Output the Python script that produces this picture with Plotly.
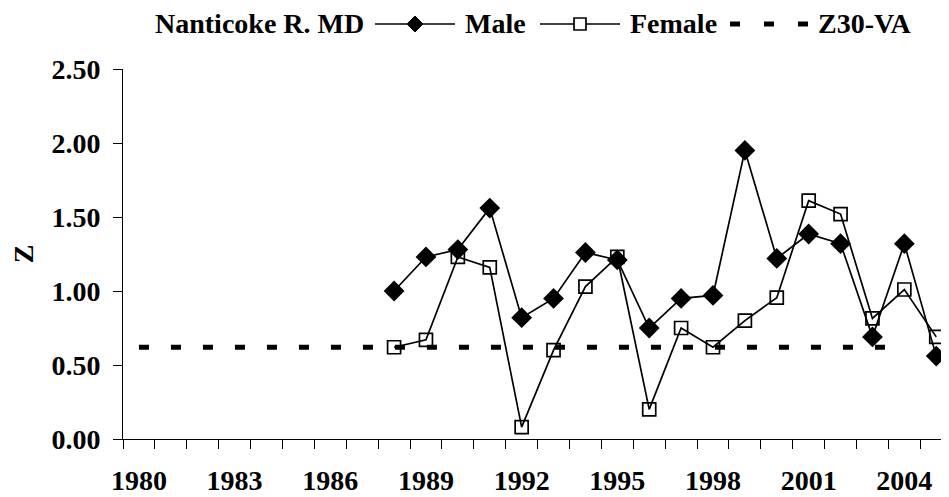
"""Nanticoke R. MD - Z by sex, with Z30-VA reference."""

import plotly.graph_objects as go

z30_years = list(range(1980, 2005))
data_years = list(range(1988, 2006))

male_z = [1.00, 1.23, 1.28, 1.56, 0.82, 0.95, 1.26, 1.21, 0.75,
          0.95, 0.97, 1.95, 1.22, 1.385, 1.32, 0.69, 1.32, 0.56]
female_z = [0.62, 0.67, 1.23, 1.16, 0.08, 0.60, 1.03, 1.23, 0.20,
            0.75, 0.62, 0.80, 0.955, 1.61, 1.52, 0.815, 1.01, 0.69]
z30_va = [0.62] * len(z30_years)

x_labels = [1980, 1983, 1986, 1989, 1992, 1995, 1998, 2001, 2004]
y_ticks = [0.0, 0.5, 1.0, 1.5, 2.0, 2.5]

FONT = "Liberation Serif"
FS = 28
# page body adds an 8px offset, so the figure is a bit smaller than the window
OFF = 8
W, H = 941, 489
ML, MR, MT, MB = 115, 0, 61, 58


def px_x(p):
    return (p - OFF - ML) / (W - ML - MR)


def px_y(p):
    return (H - MB - (p - OFF)) / (H - MT - MB)


fig = go.Figure()
fig.add_trace(
    go.Scatter(
        x=data_years, y=male_z, mode="lines+markers", name="Male",
        line=dict(color="black", width=1.7),
        marker=dict(symbol="diamond", size=16, color="black"),
        showlegend=False,
    )
)
fig.add_trace(
    go.Scatter(
        x=data_years, y=female_z, mode="lines+markers", name="Female",
        line=dict(color="black", width=1.7),
        marker=dict(symbol="square-open", size=13, color="black", line=dict(width=1.7)),
        showlegend=False,
    )
)
fig.add_trace(
    go.Scatter(
        x=z30_years, y=z30_va, mode="lines", name="Z30-VA",
        line=dict(color="black", width=5, dash="10px,22px"),
        showlegend=False,
    )
)

# hand-built legend row across the top
leg_y = 24
fig.add_annotation(text="<b>Nanticoke R. MD</b>", xref="paper", yref="paper",
                   x=px_x(366), y=px_y(leg_y), xanchor="right", yanchor="middle",
                   showarrow=False)
entries = [("Male", 463), ("Female", 628), ("Z30-VA", 816)]
for label, tx in entries:
    fig.add_annotation(text=f"<b>{label}</b>", xref="paper", yref="paper",
                       x=px_x(tx), y=px_y(leg_y), xanchor="left", yanchor="middle",
                       showarrow=False)
for x0 in (375, 540):
    fig.add_shape(type="line", xref="paper", yref="paper",
                  x0=px_x(x0), x1=px_x(x0 + 80), y0=px_y(leg_y), y1=px_y(leg_y),
                  line=dict(color="black", width=1.7))
fig.add_shape(type="path", xref="paper", yref="paper", xsizemode="pixel", ysizemode="pixel",
              xanchor=px_x(415), yanchor=px_y(leg_y),
              path="M -8 0 L 0 8 L 8 0 L 0 -8 Z", fillcolor="black", line=dict(color="black", width=1))
fig.add_shape(type="rect", xref="paper", yref="paper", xsizemode="pixel", ysizemode="pixel",
              xanchor=px_x(580), yanchor=px_y(leg_y), x0=-6, x1=6, y0=-6, y1=6,
              fillcolor="white", line=dict(color="black", width=1.7))
fig.add_shape(type="line", xref="paper", yref="paper",
              x0=px_x(730), x1=px_x(808), y0=px_y(leg_y), y1=px_y(leg_y),
              line=dict(color="black", width=5, dash="10px,24px"))

fig.update_layout(
    width=W,
    height=H,
    margin=dict(l=ML, r=MR, t=MT, b=MB),
    paper_bgcolor="white",
    plot_bgcolor="white",
    font=dict(family=FONT, size=FS, color="black"),
    showlegend=False,
    xaxis=dict(
        range=[1979.5, 2005.4],
        automargin=False,
        tickmode="array",
        tickvals=x_labels,
        ticktext=[f"<b>{v}</b>" for v in x_labels],
        ticks="",
        showgrid=False,
        zeroline=False,
        showline=True,
        linecolor="black",
        linewidth=1,
        minor=dict(ticks="outside", tick0=1979.5, dtick=1, ticklen=9,
                   tickcolor="black", showgrid=False),
        ticklabelstandoff=16,
        tickfont=dict(family=FONT, size=FS, color="black"),
    ),
    yaxis=dict(
        range=[0, 2.5],
        automargin=False,
        tickmode="array",
        tickvals=y_ticks,
        ticktext=[f"<b>{v:.2f}</b>" for v in y_ticks],
        ticks="outside",
        ticklen=9,
        tickcolor="black",
        showgrid=False,
        zeroline=False,
        showline=True,
        linecolor="black",
        linewidth=1,
        ticklabelstandoff=7,
        tickfont=dict(family=FONT, size=FS, color="black"),
        title=dict(text="<b>Z</b>", standoff=24, font=dict(family=FONT, size=FS)),
    ),
)

fig.write_html("out.html")
